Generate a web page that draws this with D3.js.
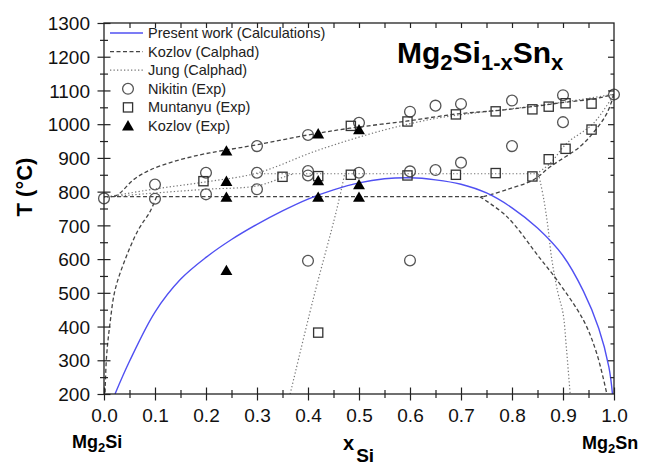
<!DOCTYPE html>
<html>
<head>
<meta charset="utf-8">
<script src="https://cdn.jsdelivr.net/npm/d3@7"></script>
<style>
  html, body { margin: 0; padding: 0; background: #fff; }
  svg { display: block; font-family: "Liberation Sans", Arial, sans-serif; }
</style>
</head>
<body>
<svg id="chart" width="653" height="468"></svg>
<script>
// ---------- data (x_Si, T in °C) ----------
const xTickLabels = ["0.0","0.1","0.2","0.3","0.4","0.5","0.6","0.7","0.8","0.9","1.0"];
const yTickValues = [200,300,400,500,600,700,800,900,1000,1100,1200,1300];

const presentWork = [[0.0216,200],[0.05,297],[0.1,443],[0.15,540],[0.2,605],[0.25,658],[0.3,703],
  [0.35,743],[0.4,778],[0.45,805],[0.5,826],[0.55,838],[0.6,841],[0.65,835],[0.7,822],[0.75,796],
  [0.8,752],[0.85,692],[0.9,610],[0.94,505],[0.97,395],[0.99,280],[0.997,200]];

const kozlovLiquidus = [[0.02,785],[0.031,795],[0.0575,835],[0.09,864],[0.136,889],[0.188,909],[0.234,922],
  [0.3,939],[0.4,968],[0.482,988],[0.593,1009],[0.69,1030],[0.768,1040],[0.84,1052],[0.904,1065],[0.956,1074],[1.0,1088]];
const kozlovSolvusLeft = [[0.103,785],[0.09,740],[0.067,686],[0.041,597],[0.0216,508],[0.0118,410],[0.005,311],[0.002,200]];
const kozlovEutectic = [[0.0,785],[0.744,785]];
const kozlovSolidusRight = [[0.744,785],[0.79,806],[0.842,835],[0.875,874],[0.933,933],[0.965,985],[0.986,1032],[1.0,1088]];
const kozlovSolvusRight = [[0.737,785],[0.79,726],[0.855,602],[0.888,538],[0.94,419],[0.966,321],[0.986,200]];

const jungLiquidus = [[0.0,783],[0.1,808],[0.2,829],[0.3,855],[0.42,923],[0.55,983],[0.65,1017],[0.72,1032],
  [0.8,1046],[0.9,1065],[1.0,1089]];
const jungSolidusLeft = [[0.0,783],[0.1,796],[0.2,807],[0.3,817],[0.352,843],[0.372,853]];
const jungPeritectic = [[0.3,853],[0.848,853]];
const jungSolidusRight = [[0.848,853],[0.875,884],[0.907,943],[0.96,1003],[1.0,1089]];
const jungSolvusMid = [[0.365,200],[0.41,480],[0.456,745],[0.472,853]];
const jungSolvusRight = [[0.852,853],[0.862,780],[0.87,700],[0.878,600],[0.89,500],[0.9,440],[0.907,330],[0.914,200]];

const nikitin = [[0.0,780],[0.1,821],[0.1,779],[0.2,856],[0.2,792],[0.3,935],[0.3,856],[0.3,807],
  [0.4,968],[0.4,861],[0.4,848],[0.4,595],[0.5,1004],[0.5,856],[0.6,1037],[0.6,860],[0.6,596],
  [0.65,1055],[0.65,864],[0.7,1060],[0.7,886],[0.8,1070],[0.8,935],[0.9,1086],[0.9,1006],[1.0,1088]];
const muntanyu = [[0.195,831],[0.35,844],[0.42,846],[0.42,382],[0.484,995],[0.484,850],[0.595,1008],[0.595,848],
  [0.69,1029],[0.69,850],[0.768,1038],[0.768,855],[0.84,1044],[0.84,845],[0.872,1052],[0.872,896],
  [0.905,1062],[0.905,927],[0.956,1061],[0.956,984]];
const kozlovExp = [[0.24,920],[0.24,830],[0.24,783],[0.24,566],[0.42,971],[0.42,832],[0.42,783],
  [0.5,983],[0.5,820],[0.5,783]];

const legendItems = [
  {label:"Present work (Calculations)", type:"blue"},
  {label:"Kozlov (Calphad)", type:"dash"},
  {label:"Jung (Calphad)", type:"dot"},
  {label:"Nikitin (Exp)", type:"circle"},
  {label:"Muntanyu (Exp)", type:"square"},
  {label:"Kozlov (Exp)", type:"triangle"}
];

// ---------- chart ----------
const svg = d3.select("#chart");
const X0 = 104, X1 = 614, Y0 = 394, Y1 = 23;
const x = d3.scaleLinear().domain([0,1]).range([X0,X1]);
const y = d3.scaleLinear().domain([200,1300]).range([Y0,Y1]);

const styles = {
  blue: {stroke:"#5050f2", width:1.4, dash:null},
  dash: {stroke:"#444", width:1.3, dash:"4,2.5"},
  dot:  {stroke:"#777", width:1.2, dash:"1.3,2.2"}
};

svg.append("clipPath").attr("id","plotclip").append("rect")
  .attr("x",X0).attr("y",Y1).attr("width",X1-X0).attr("height",Y0-Y1);

const curveGen = d3.line().x(d=>x(d[0])).y(d=>y(d[1])).curve(d3.curveCatmullRom.alpha(0.5));
const lineGen = d3.line().x(d=>x(d[0])).y(d=>y(d[1]));

const plot = svg.append("g").attr("clip-path","url(#plotclip)");
function drawLine(data, kind, straight){
  const s = styles[kind];
  plot.append("path").datum(data)
    .attr("d", straight ? lineGen : curveGen)
    .attr("fill","none").attr("stroke",s.stroke).attr("stroke-width",s.width)
    .attr("stroke-dasharray",s.dash);
}
drawLine(jungLiquidus,"dot");
drawLine(jungSolidusLeft,"dot");
drawLine(jungPeritectic,"dot",true);
drawLine(jungSolidusRight,"dot");
drawLine(jungSolvusMid,"dot");
drawLine(jungSolvusRight,"dot");
drawLine(kozlovLiquidus,"dash");
drawLine(kozlovSolvusLeft,"dash");
drawLine(kozlovEutectic,"dash",true);
drawLine(kozlovSolidusRight,"dash");
drawLine(kozlovSolvusRight,"dash");
drawLine(presentWork,"blue");

// markers
const mk = svg.append("g");
const markStroke = "#555";
const triPath = d3.symbol().type(d3.symbolTriangle).size(62)();
mk.selectAll("circle.nik").data(nikitin).join("circle")
  .attr("cx",d=>x(d[0])).attr("cy",d=>y(d[1])).attr("r",5.4)
  .attr("fill","none").attr("stroke",markStroke).attr("stroke-width",1.3);
mk.selectAll("rect.mun").data(muntanyu).join("rect")
  .attr("x",d=>x(d[0])-4.6).attr("y",d=>y(d[1])-4.6).attr("width",9.2).attr("height",9.2)
  .attr("fill","none").attr("stroke","#333").attr("stroke-width",1.3);
mk.selectAll("path.koz").data(kozlovExp).join("path")
  .attr("d",triPath).attr("transform",d=>`translate(${x(d[0])},${y(d[1])+1})`)
  .attr("fill","#000");

// ---------- axes ----------
const axisColor = "#222";
const minorY = d3.range(250,1300,100);
const minorX = d3.range(0.05,1,0.1);
const majorX = d3.range(0,1.0001,0.1);

function styleAxis(g){ g.select(".domain").remove(); g.selectAll("line").attr("stroke",axisColor).attr("stroke-width",1.2); }

// left
const gl = svg.append("g").attr("transform",`translate(${X0},0)`)
  .call(d3.axisLeft(y).tickValues(yTickValues).tickSize(6.5).tickPadding(14).tickFormat(d3.format("d")));
styleAxis(gl);
gl.selectAll(".tick line").attr("x1",6.5);
gl.selectAll("text").attr("font-size",19).attr("fill","#111").attr("dy","0.35em").attr("x",-14);
const glm = svg.append("g").attr("transform",`translate(${X0},0)`)
  .call(d3.axisLeft(y).tickValues(minorY).tickSize(4).tickFormat(""));
styleAxis(glm); glm.selectAll(".tick line").attr("x1",4);

// bottom
const gb = svg.append("g").attr("transform",`translate(0,${Y0})`)
  .call(d3.axisBottom(x).tickValues(majorX).tickSize(6.5).tickFormat((d,i)=>xTickLabels[i]));
styleAxis(gb);
gb.selectAll(".tick line").attr("y1",-6.5);
gb.selectAll("text").attr("font-size",19).attr("fill","#111").attr("dy",null).attr("y",28);
const gbm = svg.append("g").attr("transform",`translate(0,${Y0})`)
  .call(d3.axisBottom(x).tickValues(minorX).tickSize(4).tickFormat(""));
styleAxis(gbm); gbm.selectAll(".tick line").attr("y1",-4);

// top (inward)
const gt = svg.append("g").attr("transform",`translate(0,${Y1})`)
  .call(d3.axisTop(x).tickValues(d3.range(0.05,1,0.05)).tickSize(-5).tickFormat(""));
styleAxis(gt);
// right (inward)
const gr = svg.append("g").attr("transform",`translate(${X1},0)`)
  .call(d3.axisRight(y).tickValues(yTickValues.slice(1,-1)).tickSize(-6).tickFormat(""));
styleAxis(gr);
const grm = svg.append("g").attr("transform",`translate(${X1},0)`)
  .call(d3.axisRight(y).tickValues(minorY).tickSize(-3.5).tickFormat(""));
styleAxis(grm);

// frame
svg.append("rect").attr("x",X0).attr("y",Y1).attr("width",X1-X0).attr("height",Y0-Y1)
  .attr("fill","none").attr("stroke",axisColor).attr("stroke-width",1.3);

// ---------- legend ----------
const lg = svg.append("g");
legendItems.forEach((it,i)=>{
  const cy = 33 + i*18.6;
  if (it.type==="blue"||it.type==="dash"||it.type==="dot"){
    const s = styles[it.type];
    lg.append("line").attr("x1",110).attr("x2",143).attr("y1",cy).attr("y2",cy)
      .attr("stroke",s.stroke).attr("stroke-width",s.width).attr("stroke-dasharray",s.dash);
  } else if (it.type==="circle"){
    lg.append("circle").attr("cx",128).attr("cy",cy).attr("r",5.4)
      .attr("fill","none").attr("stroke",markStroke).attr("stroke-width",1.3);
  } else if (it.type==="square"){
    lg.append("rect").attr("x",128-4.6).attr("y",cy-4.6).attr("width",9.2).attr("height",9.2)
      .attr("fill","none").attr("stroke","#333").attr("stroke-width",1.3);
  } else {
    lg.append("path").attr("d",triPath).attr("transform",`translate(128,${cy+1})`).attr("fill","#000");
  }
  lg.append("text").attr("x",148).attr("y",cy+5).attr("font-size",14.5).attr("fill","#222").text(it.label);
});

// ---------- titles ----------
const title = svg.append("text").attr("x",397).attr("y",63).attr("font-weight","bold").attr("font-size",30).attr("fill","#000");
title.append("tspan").text("Mg");
title.append("tspan").attr("font-size",22).attr("dy",7).text("2");
title.append("tspan").attr("dy",-7).text("Si");
title.append("tspan").attr("font-size",22).attr("dy",7).text("1-x");
title.append("tspan").attr("dy",-7).text("Sn");
title.append("tspan").attr("font-size",22).attr("dy",7).text("x");

svg.append("text").attr("transform","translate(32,187) rotate(-90)").attr("text-anchor","middle")
  .attr("font-weight","bold").attr("font-size",22).attr("fill","#000").text("T (°C)");

const left = svg.append("text").attr("x",72).attr("y",448).attr("font-weight","bold").attr("font-size",18).attr("fill","#000");
left.append("tspan").text("Mg");
left.append("tspan").attr("font-size",13).attr("dy",4).text("2");
left.append("tspan").attr("dy",-4).text("Si");

const right = svg.append("text").attr("x",582).attr("y",449).attr("font-weight","bold").attr("font-size",18).attr("fill","#000");
right.append("tspan").text("Mg");
right.append("tspan").attr("font-size",13).attr("dy",4).text("2");
right.append("tspan").attr("dy",-4).text("Sn");

const xl = svg.append("text").attr("x",343).attr("y",450).attr("font-weight","bold").attr("font-size",20).attr("fill","#000");
xl.append("tspan").text("x");
xl.append("tspan").attr("font-size",19).attr("dx",2).attr("dy",12).text("Si");
</script>
</body>
</html>
